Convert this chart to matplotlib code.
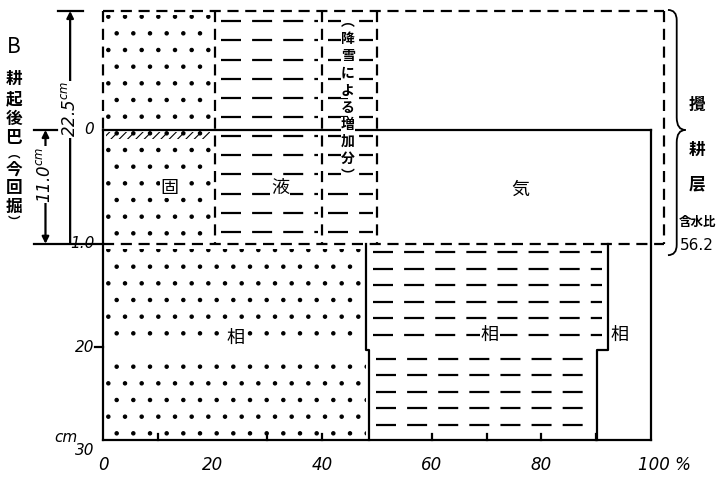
"""
Three-phase distribution of the plowed layer (B), hand-drawn style sketch.
"""

import numpy as np
import matplotlib.pyplot as plt
from matplotlib.patches import Rectangle, PathPatch
from matplotlib.path import Path

plt.rcParams['font.family'] = ['Noto Sans CJK JP', 'DejaVu Sans']
plt.rcParams['hatch.linewidth'] = 0.8

# depths (cm)
tilled_depth = 11.0      # tilled layer before plowing
expanded_depth = 22.5    # tilled layer after plowing
bottom_depth = 30.0

# upper (plowed) layer, phase boundaries in %
upper_solid = 20.5
upper_liquid = 40.0
upper_snow = 50.0
upper_total = 102.3

# lower layer, two sub-layers
lower_tops = [11.0, 21.3]
lower_bottoms = [21.3, 30.0]
lower_solid = [48.0, 48.6]
lower_liquid = [92.2, 90.1]

water_ratio = "56.2"

x_ticks = [0, 20, 40, 60, 80, 100]
x_ticklabels = ["0", "20", "40", "60", "80", "100 %"]
x_minor = [10, 30, 40, 60, 70, 80, 90]
y_ticks = [0, 11, 21, 30]
y_ticklabels = ["0", "1.0", "20", "30"]

ink = "black"
lw = 1.6
dash_outline = (0, (5, 3))
dash_liquid = (0, (9, 5))

fig = plt.figure(figsize=(7.2, 4.88), dpi=100)
ax = fig.add_axes([0, 0, 1, 1])
ax.set_xlim(-18.8, 112.6)
ax.set_ylim(34.6, -12.56)
ax.axis("off")

top = tilled_depth - expanded_depth

# solid phase dots
ax.add_patch(Rectangle((0.6, top + 0.4), upper_solid - 1.2, expanded_depth - 0.8,
                       fill=False, hatch=".", edgecolor=ink, linewidth=0))
for t, b, s in zip(lower_tops, lower_bottoms, lower_solid):
    ax.add_patch(Rectangle((0.6, t + 0.5), s - 1.2, b - t - 0.8,
                           fill=False, hatch=".", edgecolor=ink, linewidth=0))
# crust hatch at top of old surface
ax.add_patch(Rectangle((0.5, 0.15), upper_solid - 1.5, 0.7,
                       fill=False, hatch="////", edgecolor=ink, linewidth=0))

# liquid phase dashes (upper)
rows = np.arange(top + 1.0, tilled_depth - 0.3, 1.85)
ax.hlines(rows, upper_solid + 1.0, upper_liquid - 0.8, colors=ink, lw=lw,
          linestyles=dash_liquid)
ax.hlines(rows, upper_liquid + 1.0, upper_snow - 0.8, colors=ink, lw=lw,
          linestyles=dash_liquid)
# liquid phase dashes (lower)
for t, b, s, l in zip(lower_tops, lower_bottoms, lower_solid, lower_liquid):
    r = np.arange(t + 0.8, b - 0.2, 1.6)
    r = r[r < bottom_depth - 0.4]
    ax.hlines(r, s + 1.2, l - 1.2, colors=ink, lw=lw, linestyles=dash_liquid)

# dashed outline of the plowed layer
ax.plot([0, upper_total], [top, top], color=ink, lw=lw, ls=dash_outline)
ax.plot([upper_total, upper_total], [top, tilled_depth], color=ink, lw=lw, ls=dash_outline)
ax.plot([0, upper_total], [tilled_depth, tilled_depth], color=ink, lw=lw, ls=dash_outline)
ax.plot([0, 0], [top, 0], color=ink, lw=lw, ls=dash_outline)
for xv in [upper_solid, upper_liquid, upper_snow]:
    ax.plot([xv, xv], [top, tilled_depth], color=ink, lw=lw, ls=dash_outline)

# solid frame
ax.plot([0, 100], [0, 0], color=ink, lw=lw)
ax.plot([0, 0], [0, bottom_depth], color=ink, lw=lw)
ax.plot([100, 100], [0, bottom_depth], color=ink, lw=lw)
ax.plot([0, 100], [bottom_depth, bottom_depth], color=ink, lw=lw)

# lower liquid block edges
ax.plot([lower_solid[0], lower_solid[0], lower_solid[1], lower_solid[1]],
        [lower_tops[0], lower_bottoms[0], lower_tops[1], lower_bottoms[1]],
        color=ink, lw=lw)
ax.plot([lower_liquid[0], lower_liquid[0], lower_liquid[1], lower_liquid[1]],
        [lower_tops[0], lower_bottoms[0], lower_tops[1], lower_bottoms[1]],
        color=ink, lw=lw)

# ticks
for xv in x_minor:
    ax.plot([xv, xv], [bottom_depth, bottom_depth - 0.6], color=ink, lw=lw)
ax.plot([-1.4, 0], [y_ticks[2], y_ticks[2]], color=ink, lw=lw)
for xv, lab in zip(x_ticks, x_ticklabels):
    ax.text(xv + (2.5 if lab.endswith("%") else 0), bottom_depth + 2.4, lab,
            ha="center", va="center", fontsize=12, style="italic", family="DejaVu Sans")
for yv, lab in zip(y_ticks, y_ticklabels):
    ax.text(-1.6, yv + (1.0 if yv == 30 else 0), lab, ha="right", va="center",
            fontsize=11, style="italic", family="DejaVu Sans")
ax.text(-4.6, 29.7, "cm", ha="right", va="center", fontsize=11, style="italic",
        family="DejaVu Sans")

# depth arrows
ax.plot([-8.2, -3.6], [top, top], color=ink, lw=lw)
ax.plot([-12.6, -8.4], [0, 0], color=ink, lw=lw)
ax.plot([-12.6, 0], [tilled_depth, tilled_depth], color=ink, lw=lw)
ax.annotate("", xy=(-6.0, top), xytext=(-6.0, tilled_depth),
            arrowprops=dict(arrowstyle="-|>", color=ink, lw=lw, shrinkA=0, shrinkB=0))
ax.annotate("", xy=(-10.5, 0), xytext=(-10.5, tilled_depth),
            arrowprops=dict(arrowstyle="<|-|>", color=ink, lw=lw, shrinkA=0, shrinkB=0))
ax.text(-6.0, -2.0, "22.5$^{cm}$", rotation=90, ha="center", va="center",
        fontsize=12, style="italic", family="DejaVu Sans",
        bbox=dict(fc="white", ec="none", pad=0.5))
ax.text(-10.5, 4.3, "11.0$^{cm}$", rotation=90, ha="center", va="center",
        fontsize=12, style="italic", family="DejaVu Sans",
        bbox=dict(fc="white", ec="none", pad=0.5))

# left title (vertical)
ax.text(-16.3, -8.0, "B", ha="center", va="center", fontsize=15)
left_chars = ["耕", "起", "後", "巴", "︵", "今", "回", "掘", "︶"]
left_pos = [-4.9, -3.0, -1.1, 0.8, 2.3, 3.8, 5.6, 7.4, 8.9]
left_size = [12, 12, 12, 12, 9, 12, 12, 12, 9]
for yv, ch, fs in zip(left_pos, left_chars, left_size):
    ax.text(-16.3, yv, ch, ha="center", va="center", fontsize=fs, fontweight="bold")

# snow increase label
snow_chars = ["︵", "降", "雪", "に", "よ", "る", "増", "加", "分", "︶"]
for i, ch in enumerate(snow_chars):
    ax.text(44.7, -10.4 + i * 1.65, ch, ha="center", va="center", fontsize=10,
            fontweight="bold", bbox=dict(fc="white", ec="none", pad=0.3))

# phase labels
for xv, yv, ch in [(12.2, 5.6, "固"), (32.3, 5.6, "液"), (76.1, 5.8, "気"),
                   (24.1, 20.1, "相"), (70.6, 19.8, "相"), (94.3, 19.8, "相")]:
    ax.text(xv, yv, ch, ha="center", va="center", fontsize=13,
            bbox=dict(fc="white", ec="none", pad=0.5))

# right brace
verts = [(103.1, top - 0.1), (104.7, top - 0.1), (104.7, top + 0.9),
         (104.7, -1.2), (104.7, 0), (106.3, 0), (104.7, 0), (104.7, 1.2),
         (104.7, tilled_depth + 0.1), (104.7, tilled_depth + 1.1), (103.1, tilled_depth + 1.1)]
codes = [Path.MOVETO, Path.CURVE3, Path.CURVE3, Path.LINETO, Path.CURVE3, Path.CURVE3,
         Path.CURVE3, Path.CURVE3, Path.LINETO, Path.CURVE3, Path.CURVE3]
ax.add_patch(PathPatch(Path(verts, codes), fill=False, edgecolor=ink, lw=1.3))

for yv, ch in [(-2.4, "攪"), (1.9, "耕"), (5.3, "层")]:
    ax.text(108.4, yv, ch, ha="center", va="center", fontsize=12, fontweight="bold")
ax.text(108.4, 8.9, "含水比", ha="center", va="center", fontsize=9, fontweight="bold")
ax.text(108.4, 11.2, water_ratio, ha="center", va="center", fontsize=11,
        family="DejaVu Sans")

fig.savefig("out.png", dpi=100, facecolor="white")
